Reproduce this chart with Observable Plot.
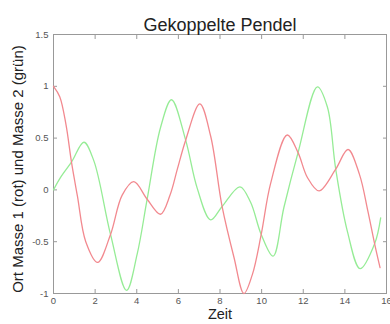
<!DOCTYPE html>
<html><head><meta charset="utf-8">
<script src="https://cdn.jsdelivr.net/npm/d3@7"></script>
<script src="https://cdn.jsdelivr.net/npm/@observablehq/plot@0.6"></script>
<style>
html,body{margin:0;padding:0;background:#fff;}
svg{font-family:"Liberation Sans",Arial,sans-serif;}
</style></head>
<body><div id="chart"></div>
<script>
const title = "Gekoppelte Pendel";
const xLabel = "Zeit";
const yLabel = "Ort Masse 1 (rot) und Masse 2 (grün)";
const xTicks = [0, 2, 4, 6, 8, 10, 12, 14, 16];
const yTicks = [-1, -0.5, 0, 0.5, 1, 1.5];

// Masse 1 (rot)
const redT = [0, 0.3, 0.6, 0.87, 1.15, 1.55, 2.12, 2.74, 3.3, 3.86, 4.5, 5.14, 5.6, 5.95, 6.35, 7.03, 7.55, 8.1, 8.67, 9.15, 9.55, 9.98, 10.43, 11.23, 11.75, 12.2, 12.76, 13.56, 14.15, 14.7, 15.1, 15.43, 15.69];
const redV = [1.0, 0.9, 0.63, 0.26, -0.06, -0.5, -0.70, -0.43, -0.05, 0.08, -0.09, -0.235, -0.05, 0.2, 0.48, 0.83, 0.52, -0.16, -0.65, -1.0, -0.82, -0.43, 0.06, 0.53, 0.36, 0.12, -0.01, 0.2, 0.39, 0.15, -0.2, -0.52, -0.75];

// Masse 2 (grün)
const greenT = [0, 0.34, 0.87, 1.46, 1.94, 2.74, 3.51, 4.02, 4.5, 5.14, 5.67, 6.35, 6.9, 7.55, 8.1, 8.96, 9.47, 9.98, 10.55, 11.07, 11.75, 12.68, 13.16, 13.56, 14.12, 14.73, 15.43, 15.72];
const greenV = [0, 0.12, 0.27, 0.46, 0.28, -0.43, -0.97, -0.62, -0.09, 0.6, 0.87, 0.48, 0.02, -0.29, -0.16, 0.03, -0.12, -0.43, -0.64, -0.17, 0.36, 0.995, 0.8, 0.2, -0.4, -0.76, -0.52, -0.27];

const red = redT.map((t, i) => ({t, v: redV[i]}));
const green = greenT.map((t, i) => ({t, v: greenV[i]}));
const fmt = d => String(d);

const chart = Plot.plot({
  width: 390, height: 324,
  marginLeft: 53, marginRight: 4, marginTop: 34, marginBottom: 31,
  style: {fontFamily: "Liberation Sans, Arial, sans-serif", fontSize: "9.5px", color: "#555", background: "#fff"},
  x: {domain: [0, 16]},
  y: {domain: [-1, 1.5]},
  marks: [
    Plot.frame({stroke: "#999"}),
    Plot.axisX(xTicks, {anchor: "bottom", tickSize: -4, tickPadding: 8, tickFormat: fmt, stroke: "#999", label: null}),
    Plot.axisX(xTicks, {anchor: "top", tickSize: -4, tickFormat: () => "", stroke: "#999", label: null}),
    Plot.axisY(yTicks, {anchor: "left", tickSize: -4, tickPadding: 9, tickFormat: fmt, stroke: "#999", label: null}),
    Plot.axisY(yTicks, {anchor: "right", tickSize: -4, tickFormat: () => "", stroke: "#999", label: null}),
    Plot.line(green, {x: "t", y: "v", stroke: "#96ec96", strokeWidth: 1.3, curve: "catmull-rom"}),
    Plot.line(red, {x: "t", y: "v", stroke: "#f2898f", strokeWidth: 1.3, curve: "catmull-rom"}),
    Plot.text([title], {frameAnchor: "top", dy: -16, fontSize: 18, fill: "#222"}),
    Plot.text([xLabel], {frameAnchor: "bottom", dy: 25, fontSize: 14.5, fill: "#222"}),
    Plot.text([yLabel], {frameAnchor: "left", textAnchor: "middle", dx: -35, dy: 5, rotate: -90, fontSize: 15, fill: "#222"})
  ]
});
document.getElementById("chart").appendChild(chart);
</script></body></html>
